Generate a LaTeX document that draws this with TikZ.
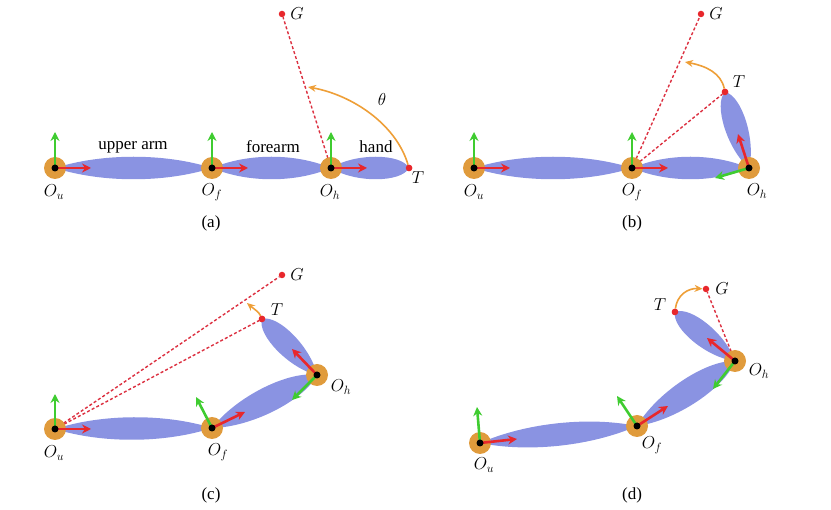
\documentclass[tikz,border=0pt]{standalone}
\usepackage{fontspec}
\setmainfont{Liberation Serif}
\usetikzlibrary{arrows.meta,calc}

\definecolor{limbblue}{HTML}{8A93E2}
\definecolor{jointorange}{HTML}{E09B3C}
\definecolor{axisred}{HTML}{E8272C}
\definecolor{axisgreen}{HTML}{3FCC30}
\definecolor{dashred}{HTML}{DC3040}
\definecolor{swingorange}{HTML}{EE9F38}

\tikzset{
  limbshape/.style={fill=limbblue,draw=none},
  joint/.style={circle,fill=jointorange,minimum size=22pt,inner sep=0pt},
  pivot/.style={circle,fill=black,minimum size=7pt,inner sep=0pt},
  marker/.style={circle,fill=axisred,minimum size=6.5pt,inner sep=0pt},
  redaxis/.style={draw=axisred,line width=2.6pt,-{Stealth[length=9pt,width=9pt]}},
  greenaxis/.style={draw=axisgreen,line width=2.6pt,-{Stealth[length=9pt,width=9pt]}},
  sightline/.style={draw=dashred,line width=1.4pt,dash pattern=on 3pt off 2.2pt},
  swing/.style={draw=swingorange,line width=1.6pt,-{Stealth[length=8pt,width=7pt]}},
  lbl/.style={font=\fontsize{17}{19}\selectfont,inner sep=0pt},
}

% limb: from, to, bulge, control fractions
\newcommand{\limb}[5]{
  \fill[limbshape] let \p1=($(#2.center)-(#1.center)$), \n1={veclen(\x1,\y1)} in
    (#1.center) .. controls ($(#1.center)!#4!(#2.center)+({#3*\y1/\n1},{-#3*\x1/\n1})$)
    and ($(#1.center)!#5!(#2.center)+({#3*\y1/\n1},{-#3*\x1/\n1})$) .. (#2.center)
    .. controls ($(#1.center)!#5!(#2.center)+({-#3*\y1/\n1},{#3*\x1/\n1})$)
    and ($(#1.center)!#4!(#2.center)+({-#3*\y1/\n1},{#3*\x1/\n1})$) .. (#1.center) -- cycle;
}
% frame at a joint: name, red tip, green tip
\newcommand{\frameat}[3]{
  \node[joint] (#1-j) at (#1) {};
  \coordinate (#1-x) at (#2);
  \coordinate (#1-y) at (#3);
  \draw[greenaxis] (#1-j.center) -- (#1-y);
  \draw[redaxis] (#1-j.center) -- (#1-x);
  \node[pivot] (#1-p) at (#1) {};
}

\begin{document}
\begin{tikzpicture}[x=1pt,y=-1pt]
  \useasboundingbox (0,0) rectangle (831,510);

  % (a)
  \coordinate (a-ou) at (55,168);
  \coordinate (a-of) at (212,168);
  \coordinate (a-oh) at (331,168);
  \coordinate (a-end) at (308,87);
  \node[marker] (a-g) at (282,14) {};
  \node[marker] (a-t) at (409,168) {};
  \limb{a-ou}{a-of}{15}{.3}{.7}
  \limb{a-of}{a-oh}{15}{.3}{.7}
  \limb{a-oh}{a-t}{15}{.3}{.9}
  \draw[sightline] (a-oh) -- (a-g);
  \frameat{a-ou}{91,168}{55,132}
  \frameat{a-of}{248,168}{212,132}
  \frameat{a-oh}{367,168}{331,132}
  \node[marker] at (a-t) {};
  \draw[swing] (a-t) .. controls (396,124) and (352,95) .. (a-end);
  \node[lbl] (a-upper) at (133,147) {upper arm};
  \node[lbl] (a-fore) at (273,147) {forearm};
  \node[lbl] (a-hand) at (376,147) {hand};
  \node[lbl] (a-theta) at (382,100) {$\theta$};
  \node[lbl] at (297,14) {$G$};
  \node[lbl] at (418,178) {$T$};
  \node[lbl] at (54,192) {$O_u$};
  \node[lbl] at (212,192) {$O_f$};
  \node[lbl] at (330,192) {$O_h$};
  \node[lbl] at (211,223) {(a)};

  % (b)
  \coordinate (b-ou) at (474,168);
  \coordinate (b-of) at (632,168);
  \coordinate (b-oh) at (749,168);
  \coordinate (b-end) at (685,62);
  \node[marker] (b-g) at (701,14) {};
  \node[marker] (b-t) at (725,92) {};
  \limb{b-ou}{b-of}{15}{.3}{.7}
  \limb{b-of}{b-oh}{15}{.3}{.7}
  \limb{b-oh}{b-t}{15}{.3}{.9}
  \frameat{b-ou}{510,168}{474,132}
  \draw[sightline] (b-of) -- (b-g);
  \draw[sightline] (b-of) -- (b-t);
  \frameat{b-of}{668,168}{632,132}
  \frameat{b-oh}{738,134}{715,178}
  \node[marker] at (b-t) {};
  \draw[swing] (b-t) .. controls (721,73) and (706,66) .. (b-end);
  \node[lbl] at (716,14) {$G$};
  \node[lbl] at (739,82) {$T$};
  \node[lbl] at (474,192) {$O_u$};
  \node[lbl] at (632,192) {$O_f$};
  \node[lbl] at (757,191) {$O_h$};
  \node[lbl] at (632,223) {(b)};

  % (c)
  \coordinate (c-ou) at (55,429);
  \coordinate (c-of) at (212,428);
  \coordinate (c-oh) at (317,375);
  \coordinate (c-end) at (247,303);
  \node[marker] (c-g) at (282,275) {};
  \node[marker] (c-t) at (262,319) {};
  \limb{c-ou}{c-of}{15}{.3}{.7}
  \limb{c-of}{c-oh}{17}{.3}{.8}
  \limb{c-oh}{c-t}{15}{.3}{.9}
  \draw[sightline] (c-ou) -- (c-g);
  \draw[sightline] (c-ou) -- (c-t);
  \frameat{c-ou}{91,429}{55,394}
  \frameat{c-of}{245,412}{196,397}
  \frameat{c-oh}{292,349}{292,400}
  \node[marker] at (c-t) {};
  \draw[swing] (c-t) .. controls (259,312) and (254,309) .. (c-end);
  \node[lbl] at (297,275) {$G$};
  \node[lbl] at (277,310) {$T$};
  \node[lbl] at (54,453) {$O_u$};
  \node[lbl] at (218,452) {$O_f$};
  \node[lbl] at (341,387) {$O_h$};
  \node[lbl] at (211,495) {(c)};

  % (d)
  \coordinate (d-ou) at (480,443);
  \coordinate (d-of) at (637,426);
  \coordinate (d-oh) at (735,361);
  \node[marker] (d-g) at (706,289) {};
  \node[marker] (d-t) at (675,312) {};
  \limb{d-ou}{d-of}{15}{.3}{.7}
  \limb{d-of}{d-oh}{17}{.3}{.8}
  \limb{d-oh}{d-t}{15}{.3}{.9}
  \draw[sightline] (d-oh) -- (d-g);
  \frameat{d-ou}{517,439}{477,407}
  \frameat{d-of}{668,406}{617,396}
  \frameat{d-oh}{707,338}{713,389}
  \node[marker] at (d-t) {};
  \draw[swing] (d-t) .. controls (677,295) and (688,288) .. (d-g);
  \node[lbl] at (722,289) {$G$};
  \node[lbl] at (660,305) {$T$};
  \node[lbl] at (484,465) {$O_u$};
  \node[lbl] at (652,445) {$O_f$};
  \node[lbl] at (759,371) {$O_h$};
  \node[lbl] at (632,495) {(d)};
\end{tikzpicture}
\end{document}
